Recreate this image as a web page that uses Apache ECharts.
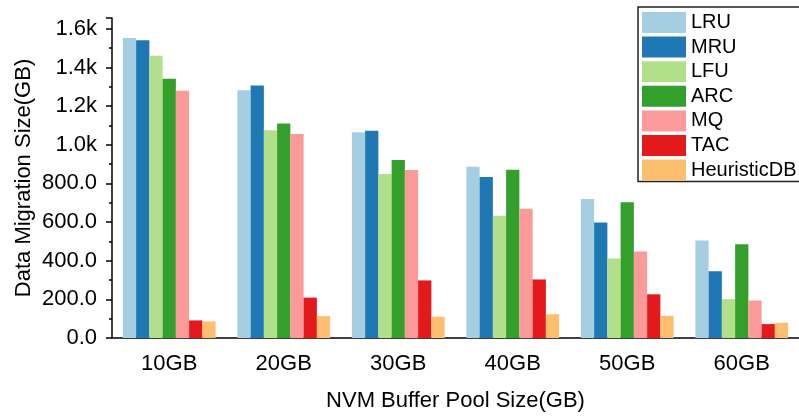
<!DOCTYPE html>
<html>
<head>
<meta charset="utf-8">
<script src="https://cdn.jsdelivr.net/npm/echarts@6/dist/echarts.min.js"></script>
<style>
  html, body { margin: 0; padding: 0; background: #fff; }
  #chart { width: 799px; height: 417px; }
</style>
</head>
<body>
<div id="chart"></div>
<script>
// Buffer pool sizes on the x axis
const categories = ['10GB', '20GB', '30GB', '40GB', '50GB', '60GB'];

// Data migration size (GB) per replacement policy
const lru         = [1552, 1282, 1065, 886, 719, 504];
const mru         = [1541, 1307, 1073, 833, 598, 346];
const lfu         = [1461, 1075,  849, 633, 412, 201];
const arc         = [1341, 1110,  921, 871, 703, 485];
const mq          = [1279, 1056,  869, 669, 447, 194];
const tac         = [  91,  209,  298, 303, 226,  72];
const heuristicDB = [  86,  113,  110, 123, 115,  79];

const seriesNames = ['LRU', 'MRU', 'LFU', 'ARC', 'MQ', 'TAC', 'HeuristicDB'];
const seriesValues = [lru, mru, lfu, arc, mq, tac, heuristicDB];
const colors = ['#a6cee3', '#1f78b4', '#b2df8a', '#33a02c', '#fb9a99', '#e31a1c', '#fdbf6f'];

const font = 'Liberation Sans, Arial, sans-serif';

const chart = echarts.init(document.getElementById('chart'), null, { renderer: 'canvas' });

function yLabel(v) {
  if (v >= 1000) return (v / 1000).toFixed(1) + 'k';
  return v.toFixed(1);
}

chart.setOption({
  animation: false,
  color: colors,
  grid: { left: 112, right: -3, top: 18, bottom: 77, containLabel: false },
  legend: {
    orient: 'vertical',
    left: 638,
    top: 7,
    data: seriesNames,
    icon: 'rect',
    itemWidth: 44,
    itemHeight: 21,
    itemGap: 3.6,
    padding: [5, 30, 1, 4],
    borderColor: '#222',
    borderWidth: 1.5,
    borderRadius: 0,
    textStyle: { fontFamily: font, fontSize: 20, color: '#000' }
  },
  xAxis: [
    {
      type: 'category',
      data: categories,
      boundaryGap: true,
      axisLine: { lineStyle: { color: '#000', width: 1.5 } },
      axisTick: { alignWithLabel: true, length: 7, lineStyle: { color: '#000', width: 1.5 } },
      axisLabel: { fontFamily: font, fontSize: 22, color: '#000', margin: 15 },
      splitLine: { show: false },
      name: 'NVM Buffer Pool Size(GB)',
      nameLocation: 'middle',
      nameGap: 52,
      nameMoveOverlap: false,
      nameTextStyle: { fontFamily: font, fontSize: 22, color: '#000' }
    },
    {
      // short ticks on the category boundaries
      type: 'category',
      data: categories,
      position: 'bottom',
      boundaryGap: true,
      axisLine: { show: false },
      axisTick: { alignWithLabel: false, length: 3, lineStyle: { color: '#000', width: 1.5 } },
      axisLabel: { show: false },
      splitLine: { show: false }
    }
  ],
  yAxis: {
    type: 'value',
    min: 0,
    max: 1656,
    interval: 200,
    axisLine: { show: true, lineStyle: { color: '#000', width: 1.5 } },
    axisTick: { show: true, length: 6, lineStyle: { color: '#000', width: 1.5 } },
    minorTick: { show: true, splitNumber: 2, length: 3, lineStyle: { color: '#000', width: 1.5 } },
    axisLabel: { fontFamily: font, fontSize: 22, color: '#000', margin: 15, formatter: yLabel, showMaxLabel: false },
    splitLine: { show: false },
    name: 'Data Migration Size(GB)',
    nameLocation: 'middle',
    nameGap: 77,
    nameMoveOverlap: false,
    nameTextStyle: { fontFamily: font, fontSize: 22, color: '#000' }
  },
  series: seriesNames.map((name, i) => ({
    name: name,
    type: 'bar',
    xAxisIndex: 0,
    data: seriesValues[i],
    barGap: '0%',
    barCategoryGap: '19%',
    itemStyle: { color: colors[i] }
  }))
});
</script>
</body>
</html>
